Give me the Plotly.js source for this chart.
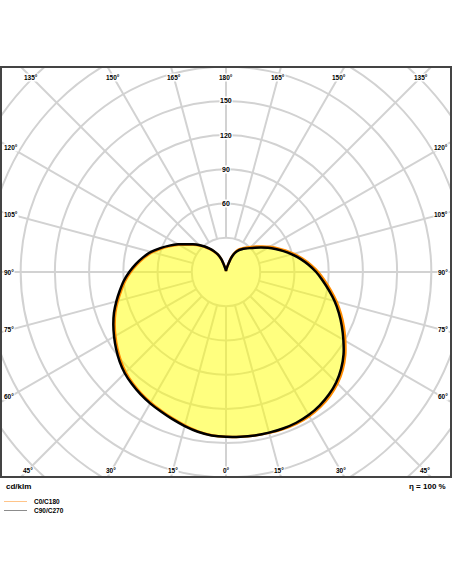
<!DOCTYPE html>
<html><head><meta charset="utf-8">
<script src="https://cdn.plot.ly/plotly-3.0.1.min.js"></script>
<style>
html,body{margin:0;padding:0;background:#fff;}
#wrap{position:relative;width:452px;height:584px;overflow:hidden;}
#clip{position:absolute;left:2px;top:68px;width:448px;height:408px;overflow:hidden;}
#polar{position:absolute;left:-84px;top:-104px;width:616px;height:616px;}
#overlay{position:absolute;left:0;top:0;width:452px;height:584px;pointer-events:none;}
</style></head><body>
<div id="wrap"><div id="clip"><div id="polar"></div></div><div id="overlay"></div></div>
<script>
// ---- data (cd/klm) ----
const gamma = [0,5,10,15,20,25,30,35,40,45,50,55,60,65,70,75,80,85,90,95,100,105,110,115,120,125,130,135,140,145,150,155,160,165,170,175,180];
const c0   = [144.5,145,145.6,146,146.5,146.6,145.9,144.3,141.8,138.3,133.5,127.6,120.7,114,107.2,100.4,93.4,86.9,80.9,74.5,68,61.6,55.4,49.5,44.2,39.1,34.7,31,28,25.4,22.8,19,13.3,6.2,3,1.5,1];
const c180 = [144.5,143.6,141.8,139.2,136.6,134.2,132.1,129.8,127.2,124.3,120.5,116.3,112,107.7,103.2,98.2,93.3,88.7,83.5,78.1,72.6,66.9,60.2,53.7,47.6,41.7,37.1,32.8,28.6,24.5,20.6,16.7,11.8,5.4,2.8,1.5,1];
const c90  = [144.5,145,145.5,145.8,146,145.8,144.8,143,140.3,136.7,131.8,125.8,118.8,112,105.3,98.5,91.5,85,79,72.6,66.2,59.8,53.6,47.8,42.5,37.5,33.2,29.6,26.8,24.4,22,18.5,13,6,3,1.5,1];
const c270 = [144.5,143.8,142.2,139.8,137.3,135,133,130.8,128.3,125.5,121.8,117.6,113.3,109,104.5,99.5,94.6,90,84.8,79.4,73.9,68.1,61.3,54.7,48.5,42.5,37.9,33.5,29.2,25,21,17,12,5.5,2.8,1.5,1];
const seriesNames = ['C0/C180','C90/C270'];
const ringLabels = [60,90,120,150];
const ringStep = 30;
const radialMax = 270;
const spokeStep = 15;
const topLabels = [135,150,165,180,165,150,135];
const sideLabels = [120,105,90,75,60];
const bottomLabels = [45,30,15,0,15,30,45];
const unitLabel = 'cd/klm';
const effLabel = 'η = 100 %';

// ---- styles ----
const GRID = '#d2d2d2';
const ORANGE = '#ff8c00';
const BLACK = '#000000';
const FONT = 'Liberation Sans, Arial, sans-serif';
const SIZE = 616;
const CX = 226, CY = 272;
const K = (SIZE/2)/radialMax;

function plane(right, left){
  const rev = gamma.map((g,i)=>({g:g, r:left[i]})).reverse();
  return {
    theta: gamma.concat(rev.map(o=>360-o.g)),
    r: right.concat(rev.map(o=>o.r))
  };
}
const spokeTheta = [], spokeR = [];
for (let a = 0; a < 360; a += spokeStep){ spokeTheta.push(a,a,null); spokeR.push(ringStep, radialMax, null); }

const pA = plane(c0, c180), pB = plane(c90, c270);
const traces = [
  {type:'scatterpolar', mode:'lines', theta:spokeTheta, r:spokeR, connectgaps:false,
   line:{color:GRID, width:2}, hoverinfo:'skip', showlegend:false},
  {type:'scatterpolar', mode:'lines', name:seriesNames[0], theta:pA.theta, r:pA.r,
   fill:'toself', fillcolor:'rgba(255,255,0,0.5)', line:{color:ORANGE, width:2.5, shape:'spline', smoothing:0.6}},
  {type:'scatterpolar', mode:'lines', name:seriesNames[1], theta:pB.theta, r:pB.r,
   line:{color:BLACK, width:2.5, shape:'spline', smoothing:0.6}}
];

Plotly.newPlot('polar', traces, {
  width:SIZE, height:SIZE, margin:{l:0,r:0,t:0,b:0,pad:0},
  paper_bgcolor:'#fff', showlegend:false,
  polar:{domain:{x:[0,1],y:[0,1]}, bgcolor:'#fff',
    radialaxis:{range:[0,radialMax], tick0:0, dtick:ringStep, showgrid:true, gridcolor:GRID, gridwidth:2,
      showline:false, showticklabels:false, ticks:''},
    angularaxis:{rotation:-90, direction:'counterclockwise', showgrid:false, showline:false,
      showticklabels:false, ticks:''}
  }
}, {staticPlot:true, displayModeBar:false});

// ---- overlay: frame, angle labels, ring labels, footer, legend ----
const ann = [];
function txt(x,y,t,anchor,size,bg){
  const a = {x:x, y:y, xref:'x', yref:'y', text:t, showarrow:false, xanchor:anchor||'center', yanchor:'middle',
    font:{family:FONT, size:size||6.5, color:'#000', weight:'bold'}};
  if (bg){ a.bgcolor = '#fff'; a.borderpad = 0; }
  ann.push(a);
}
const rad = d => d*Math.PI/180;
const TOPY = 77, BOTY = 470.5, SIDEDX = 215;
topLabels.forEach((g,i)=>{ const s = i < 3 ? -1 : (i === 3 ? 0 : 1); txt(CX + s*(CY-TOPY)*Math.tan(rad(180-g)), TOPY, g+'°', 'center', 6.5, true); });
bottomLabels.forEach((g,i)=>{ const s = i < 3 ? -1 : (i === 3 ? 0 : 1); txt(CX + s*(BOTY-CY)*Math.tan(rad(g)), BOTY, g+'°', 'center', 6.5, true); });
sideLabels.forEach(g=>{
  const y = CY + SIDEDX*Math.tan(rad(90-g));
  txt(3, y, g+'°', 'left', 6.5, true); txt(449, y, g+'°', 'right', 6.5, true);
});
ringLabels.forEach(v=>txt(CX, CY - K*v, String(v), 'center', 7, true));
txt(4, 486.5, unitLabel, 'left', 8, false);
txt(448, 486.5, effLabel, 'right', 8, false);
txt(32, 501.5, seriesNames[0], 'left', 6.5, false);
txt(32, 510.5, seriesNames[1], 'left', 6.5, false);

const shapes = [
  {type:'rect', xref:'x', yref:'y', x0:1, x1:451, y0:67, y1:477, line:{color:'#444', width:2}, fillcolor:'rgba(0,0,0,0)'},
  {type:'line', xref:'x', yref:'y', x0:4, x1:27, y0:501.5, y1:501.5, line:{color:'#ffc489', width:1}},
  {type:'line', xref:'x', yref:'y', x0:4, x1:27, y0:510.5, y1:510.5, line:{color:'#8c8c8c', width:1}}
];

Plotly.newPlot('overlay', [], {
  width:452, height:584, margin:{l:0,r:0,t:0,b:0,pad:0},
  paper_bgcolor:'rgba(0,0,0,0)', plot_bgcolor:'rgba(0,0,0,0)', showlegend:false,
  xaxis:{range:[0,452], visible:false, fixedrange:true},
  yaxis:{range:[584,0], visible:false, fixedrange:true},
  shapes:shapes, annotations:ann
}, {staticPlot:true, displayModeBar:false});
</script>
</body></html>
